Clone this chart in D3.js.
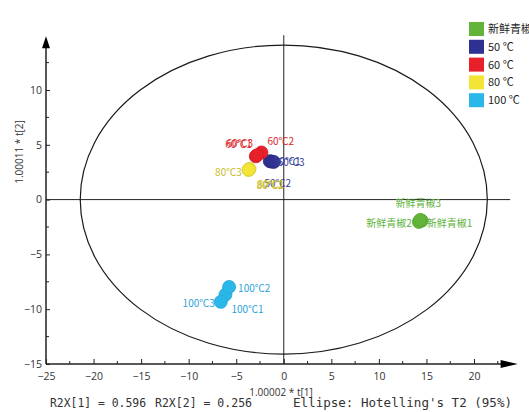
<!DOCTYPE html>
<html><head><meta charset="utf-8">
<script src="https://cdn.jsdelivr.net/npm/d3@7"></script>
<style>body{margin:0;background:#fff}svg{display:block}</style>
</head><body><svg id="c" width="529" height="412"></svg>
<script>
// ---- data ----
const groups = ["新鲜青椒", "50 ℃", "60 ℃", "80 ℃", "100 ℃"];
const groupColors = ["#63b53a", "#2e3192", "#e8202a", "#f2e535", "#2ab8ea"];
const labelColors = ["#5cb23a", "#3b3f9c", "#d9262b", "#c9bb1e", "#2aa3d8"];
const pointNames = ["新鲜青椒1","新鲜青椒2","新鲜青椒3","50℃1","50℃2","50℃3","60℃1","60℃2","60℃3","80℃1","80℃2","80℃3","100℃1","100℃2","100℃3"];
const pointGroup = [0,0,0,1,1,1,2,2,2,3,3,3,4,4,4];
const t1 = [14.5, 14.2, 14.35, -1.47, -1.3, -1.05, -2.94, -2.35, -2.8, -3.6, -3.7, -3.68, -6.13, -5.75, -6.62];
const t2 = [-1.92, -2.04, -1.85, 3.5, 3.47, 3.44, 3.95, 4.3, 4.05, 2.8, 2.7, 2.74, -8.67, -7.97, -9.33];
const xTicks = [-25,-20,-15,-10,-5,0,5,10,15,20];
const yTicks = [-15,-10,-5,0,5,10];
const ellipseRadii = [21.4, 14.1];
const xTitle = "1.00002 * t[1]";
const yTitle = "1.00011 * t[2]";
const footer = ["R2X[1] = 0.596", "R2X[2] = 0.256", "Ellipse: Hotelling's T2 (95%)"];

// label placement (pixel offsets from the point, anchor)
const labelPlace = [[5,6,"start"],[-7,5,"end"],[-2,-13,"middle"],[4,4,"start"],[-7,25,"start"],[4,4,"start"],
  [-4,-8,"end"],[6,-7,"start"],[-4,-8,"end"],[8,19,"start"],[8,19,"start"],[-7,6,"end"],
  [6,18,"start"],[9,5,"start"],[-6,5,"end"]];

const svg = d3.select("#c");
const x = d3.scaleLinear().domain([-25,20]).range([46,474]);
const y = d3.scaleLinear().domain([-15,10]).range([364,90]);
const axisCol = "#222";
const txtCol = "#333";
const sans = "'Open Sans','DejaVu Sans',sans-serif";

// ellipse
svg.append("ellipse").attr("cx", x(0)).attr("cy", y(0))
  .attr("rx", x(ellipseRadii[0]) - x(0)).attr("ry", y(0) - y(ellipseRadii[1]))
  .attr("fill","none").attr("stroke","#1a1a1a").attr("stroke-width",1.2);

// crosshair lines
svg.append("line").attr("x1", x(-25)).attr("x2", x(23.8)).attr("y1", y(0)).attr("y2", y(0)).attr("stroke",axisCol).attr("stroke-width",1);
svg.append("line").attr("x1", x(0)).attr("x2", x(0)).attr("y1", y(15)).attr("y2", y(-15)).attr("stroke",axisCol).attr("stroke-width",1);

// x axis
const xMinor = d3.range(-22.5, 23, 5);
const xa = svg.append("g").attr("transform",`translate(0,${y(-15)})`);
xa.call(d3.axisBottom(x).tickValues(xTicks).tickSize(-5).tickPadding(9).tickFormat(d3.format("d")));
xa.select(".domain").remove();
xa.selectAll(".tick line").attr("stroke",axisCol);
xa.selectAll(".tick text").attr("fill",txtCol).style("font-family",sans).style("font-size","10.5px");
xa.selectAll(".minor").data(xMinor).enter().append("line").attr("x1",d=>x(d)).attr("x2",d=>x(d)).attr("y1",0).attr("y2",-3).attr("stroke",axisCol);
xa.append("line").attr("x1", x(-25)).attr("x2", x(23.6)).attr("y1",0).attr("y2",0).attr("stroke",axisCol).attr("stroke-width",1.5);
xa.append("path").attr("d", `M${x(22.8)},-4L${x(24.6)},0L${x(22.8)},4Z`).attr("fill","#000");

// y axis
const yMinor = d3.range(-12.5, 13, 5);
const ya = svg.append("g").attr("transform",`translate(${x(-25)},0)`);
ya.call(d3.axisLeft(y).tickValues(yTicks).tickSize(-4).tickPadding(4).tickFormat(d3.format("d")));
ya.select(".domain").remove();
ya.selectAll(".tick line").attr("stroke",axisCol);
ya.selectAll(".tick text").attr("fill",txtCol).style("font-family",sans).style("font-size","10.5px");
ya.selectAll(".minor").data(yMinor).enter().append("line").attr("y1",d=>y(d)).attr("y2",d=>y(d)).attr("x1",0).attr("x2",3).attr("stroke",axisCol);
ya.append("line").attr("y1", y(-15)).attr("y2", y(14)).attr("x1",0).attr("x2",0).attr("stroke",axisCol).attr("stroke-width",1.5);
ya.append("path").attr("d", `M-4,${y(13.8)}L0,${y(14.9)}L4,${y(13.8)}Z`).attr("fill","#000");

// titles
svg.append("text").attr("x", 281).attr("y", 396).attr("text-anchor","middle")
  .style("font-family",sans).style("font-size","10px").attr("fill",txtCol).text(xTitle);
svg.append("text").attr("transform","translate(23,152) rotate(-90)").attr("text-anchor","middle")
  .style("font-family",sans).style("font-size","10px").attr("fill",txtCol).text(yTitle);
const fx = [50,155,293];
const fw = [96,97,219];
svg.selectAll(".foot").data(footer).enter().append("text").attr("x",(d,i)=>fx[i]).attr("y",407)
  .attr("textLength",(d,i)=>fw[i]).attr("lengthAdjust","spacingAndGlyphs")
  .style("font-family","'DejaVu Sans Mono','Liberation Mono',monospace").style("font-size","12px")
  .attr("fill",txtCol).text(d=>d);

// points
const idx = d3.range(pointNames.length);
svg.selectAll(".pt").data(idx).enter().append("circle")
  .attr("cx", i=>x(t1[i])).attr("cy", i=>y(t2[i])).attr("r",6.5)
  .attr("fill", i=>groupColors[pointGroup[i]])
  .attr("stroke", i=>d3.color(groupColors[pointGroup[i]]).darker(0.3)).attr("stroke-width",0.8);

// labels
svg.selectAll(".lb").data(idx).enter().append("text")
  .attr("x", i=>x(t1[i]) + labelPlace[i][0]).attr("y", i=>y(t2[i]) + labelPlace[i][1])
  .attr("text-anchor", i=>labelPlace[i][2])
  .style("font-family","'Noto Sans CJK SC',sans-serif").style("font-size","10px")
  .attr("fill", i=>labelColors[pointGroup[i]]).text(i=>pointNames[i]);

// legend
const lg = svg.append("g");
groups.forEach((g,i)=>{
  const ry = 22 + i*17.8;
  lg.append("rect").attr("x",469).attr("y",ry).attr("width",15).attr("height",14).attr("fill",groupColors[i]);
  lg.append("text").attr("x",488).attr("y",ry+11).style("font-family","'Noto Sans CJK SC',sans-serif")
    .style("font-size","11px").attr("fill","#222").text(g);
});
</script></body></html>
